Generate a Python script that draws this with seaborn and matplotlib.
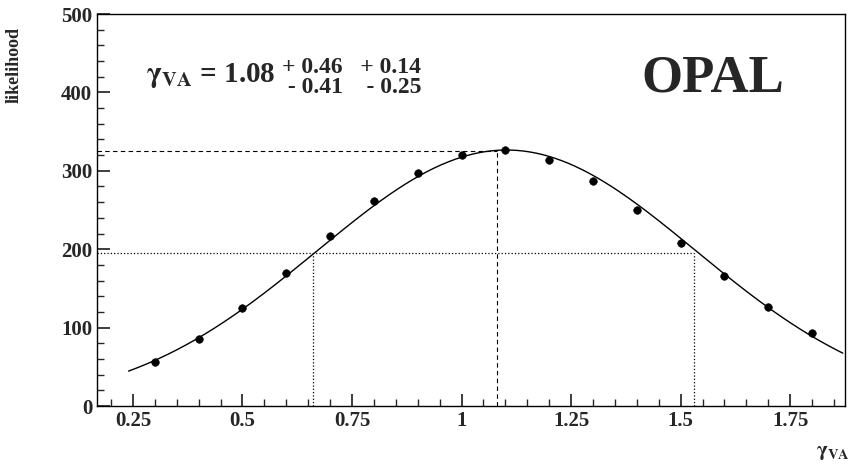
import numpy as np
import matplotlib
matplotlib.use('Agg')
import matplotlib.pyplot as plt
import seaborn as sns
from matplotlib.ticker import AutoMinorLocator

gamma = [0.3, 0.4, 0.5, 0.6, 0.7, 0.8, 0.9, 1.0, 1.1, 1.2, 1.3, 1.4, 1.5, 1.6, 1.7, 1.8]
like = [56, 86, 125, 170, 217, 262, 297, 320, 326, 314, 287, 250, 208, 166, 126, 93]
best, lo, hi = 1.08, 0.66, 1.53
peak, level = 325, 195

sns.set_theme(style='ticks')
plt.rcParams['font.family'] = ['Liberation Serif', 'DejaVu Serif']
plt.rcParams['font.weight'] = 'bold'
plt.rcParams['mathtext.fontset'] = 'stix'

# gaussian fit through the points (quadratic in log)
c = np.polyfit(gamma, np.log(like), 2)
xs = np.linspace(0.24, 1.87, 300)
ys = np.exp(np.polyval(c, xs))

fig = plt.figure(figsize=(8.68, 4.67), dpi=100)
ax = fig.add_axes([97/868, 1-406/467, 748/868, 392/467])
sns.lineplot(x=xs, y=ys, ax=ax, color='black', lw=1)
sns.scatterplot(x=gamma, y=like, ax=ax, color='black', s=30, edgecolor='black', zorder=5)

ax.plot([0.168, best], [peak, peak], ls='--', color='black', lw=0.8, dashes=(4, 3))
ax.plot([best, best], [0, peak], ls='--', color='black', lw=0.8, dashes=(4, 3))
ax.plot([0.168, hi], [level, level], ls=':', color='black', lw=0.9)
ax.plot([lo, lo], [0, level], ls=':', color='black', lw=0.9)
ax.plot([hi, hi], [0, level], ls=':', color='black', lw=0.9)

ax.set_xlim(0.168, 1.875)
ax.set_ylim(0, 500)
ax.set_xticks([0.25, 0.5, 0.75, 1, 1.25, 1.5, 1.75])
ax.set_xticklabels(['0.25', '0.5', '0.75', '1', '1.25', '1.5', '1.75'])
ax.set_yticks([0, 100, 200, 300, 400, 500])
ax.xaxis.set_minor_locator(AutoMinorLocator(5))
ax.yaxis.set_minor_locator(AutoMinorLocator(5))
ax.tick_params(which='both', direction='in', top=False, right=False, labelsize=15)
ax.tick_params(which='major', length=9)
ax.tick_params(which='minor', length=5)
for s in ax.spines.values():
    s.set_linewidth(1)
    s.set_color('black')
for lab in ax.get_xticklabels() + ax.get_yticklabels():
    lab.set_fontweight('bold')

ax.set_ylabel('likelihood', fontsize=13, fontweight='bold')
ax.yaxis.set_label_coords(-0.1, 0.87)
fig.text(850/868, 1-452/467, r'$\mathbf{\gamma_{VA}}$', fontsize=15, ha='right', va='center')

ax.text(0.28, 421, r'$\mathbf{\gamma_{VA}}$ = 1.08', fontsize=21, fontweight='bold', va='center')
ax.text(0.59, 432, '+ 0.46   + 0.14', fontsize=17, fontweight='bold', va='center')
ax.text(0.59, 406, ' - 0.41    - 0.25', fontsize=17, fontweight='bold', va='center')
ax.text(1.41, 418, 'OPAL', fontsize=38, fontweight='bold', va='center')

fig.savefig('out.png', dpi=100)
